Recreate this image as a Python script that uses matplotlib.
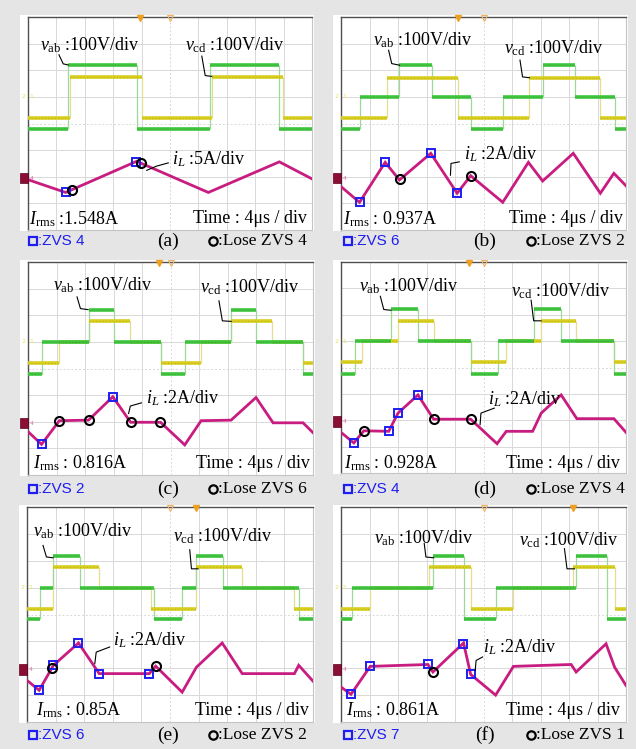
import numpy as np
import matplotlib
matplotlib.use('Agg')
import matplotlib.pyplot as plt
from matplotlib.patches import Rectangle

plt.rcParams['mathtext.fontset'] = 'custom'
plt.rcParams['mathtext.rm'] = 'Liberation Serif'
plt.rcParams['mathtext.it'] = 'Liberation Serif:italic'
plt.rcParams['mathtext.bf'] = 'Liberation Serif:bold'

# ---------------- scope settings ----------------
TIME_PER_DIV = 4.0      # us / div
V_PER_DIV = 100.0       # V / div
V_OFFSET_DIV = 5.0      # ch1/ch2 ground level (div)
I_OFFSET_DIV = 1.95     # ch4 ground level (div)

panel_names = ['(a)', '(b)', '(c)', '(d)', '(e)', '(f)']
i_per_div = [5, 2, 2, 2, 2, 2]                     # A / div
irms_text = ['1.548A', '0.937A', '0.816A', '0.928A', '0.85A', '0.861A']
zvs_count = [4, 6, 2, 4, 6, 7]
lose_count = [4, 2, 6, 4, 2, 1]
trigger_t = [15.8, 16.4, 18.4, 18.0, 23.7, 32.5]  # us

# ---------------- (a) ----------------
a_vab_t = [0, 5.6, 15.4, 25.6, 35.4, 40]
a_vab_v = [-122, 121, -122, 121, -122]
a_vcd_t = [0, 5.9, 16.0, 25.9, 35.9, 40]
a_vcd_v = [-78, 76, -78, 76, -78]
a_il_t = [0, 5.3, 15.3, 25.4, 35.4, 40]
a_il_a = [-0.3, -2.7, 3.15, -2.7, 3.05, -0.15]
a_zvs_t = [5.3, 15.2]
a_lose_t = [6.2, 15.9]

# ---------------- (b) ----------------
b_vab_t = [0, 2.7, 8.2, 12.8, 18.2, 22.7, 28.3, 32.8, 38.4, 40]
b_vab_v = [-121, 0, 119, 0, -121, 0, 119, 0, -121]
b_vcd_t = [0, 6.4, 16.4, 26.4, 36.4, 40]
b_vcd_v = [-81, 71, -81, 71, -81]
b_il_t = [0, 2.6, 6.2, 8.2, 12.6, 16.3, 18.2, 22.7, 26.3, 28.3, 32.6, 36.4, 38.3, 40]
b_il_a = [-0.64, -1.82, 1.18, -0.14, 1.86, -1.14, 0.18, -1.82, 1.18, -0.22, 1.86, -1.14, 0.36, -0.58]
b_zvs_t = [2.6, 6.2, 12.6, 16.3]
b_lose_t = [8.3, 18.2]

# ---------------- (c) ----------------
c_vab_t = [0, 2.0, 8.5, 12.1, 18.6, 22.0, 28.5, 32.0, 38.6, 40]
c_vab_v = [-121, 0, 119, 0, -121, 0, 119, 0, -121]
c_vcd_t = [0, 4.4, 8.5, 14.3, 18.6, 24.3, 28.5, 34.3, 38.6, 40]
c_vcd_v = [-79, 0, 77, 0, -79, 0, 77, 0, -79]
c_il_t = [0, 1.9, 4.4, 8.5, 11.9, 14.4, 18.6, 22.0, 24.3, 28.5, 32.0, 34.4, 38.6, 40]
c_il_a = [-0.64, -1.6, 0.18, 0.22, 1.98, 0.06, 0.06, -1.64, 0.18, 0.22, 1.92, 0.02, 0.02, -0.72]
c_zvs_t = [1.9, 11.9]
c_lose_t = [4.4, 8.5, 14.5, 18.5]

# ---------------- (d) ----------------
d_vab_t = [0, 1.9, 7.0, 10.8, 18.2, 22.0, 27.1, 30.9, 38.3, 40]
d_vab_v = [-124, 0, 120, 0, -124, 0, 120, 0, -124]
d_vcd_t = [0, 3.0, 8.0, 13.0, 18.2, 23.2, 28.1, 33.0, 38.3, 40]
d_vcd_v = [-80, 0, 77, 0, -80, 0, 77, 0, -80]
d_il_t = [0, 1.8, 3.2, 6.7, 8.0, 10.8, 13.0, 18.2, 21.9, 23.2, 26.9, 28.1, 30.9, 33.1, 38.3, 40]
d_il_a = [-0.82, -1.62, -0.7, -0.74, 0.64, 2.02, 0.18, 0.18, -1.68, -0.74, -0.74, 0.64, 2.02, 0.22, 0.22, -0.82]
d_zvs_t = [1.8, 6.7, 8.0, 10.8]
d_lose_t = [3.2, 13.0, 18.2]

# ---------------- (e) ----------------
e_vab_t = [0, 1.8, 3.6, 7.4, 17.7, 21.7, 23.6, 27.4, 38.0, 40]
e_vab_v = [-118, 0, 117, 0, -118, 0, 117, 0, -118]
e_vcd_t = [0, 3.6, 10.1, 17.4, 23.7, 30.1, 37.4, 40]
e_vcd_v = [-78, 75, 0, -78, 75, 0, -78]
e_il_t = [0, 1.7, 3.7, 7.2, 10.1, 17.1, 18.0, 21.7, 23.7, 27.3, 30.1, 37.4, 38.0, 40]
e_il_a = [-0.8, -1.54, 0.32, 1.98, -0.3, -0.3, 0.26, -1.68, 0.18, 1.98, -0.3, -0.3, 0.32, -0.86]
e_zvs_t = [1.7, 3.7, 7.2, 10.1, 17.0]
e_lose_t = [3.5, 18.0]

# ---------------- (f) ----------------
f_vab_t = [0, 1.6, 12.9, 17.3, 21.7, 33.0, 37.4, 40]
f_vab_v = [-118, 0, 117, -118, 0, 117, -118]
f_vcd_t = [0, 4.1, 12.4, 18.3, 24.2, 32.5, 38.4, 40]
f_vcd_v = [-78, 0, 75, -78, 0, 75, -78]
f_il_t = [0, 1.4, 4.1, 12.2, 12.9, 17.2, 18.2, 21.7, 24.2, 32.3, 33.0, 37.2, 38.4, 40]
f_il_a = [-1.3, -1.84, 0.24, 0.38, -0.18, 1.98, -0.36, -1.9, 0.24, 0.38, -0.18, 1.92, 0.18, -1.18]
f_zvs_t = [1.4, 4.1, 12.2, 17.1, 18.2]
f_lose_t = [12.9]

data = [
    (a_vab_t, a_vab_v, a_vcd_t, a_vcd_v, a_il_t, a_il_a, a_zvs_t, a_lose_t),
    (b_vab_t, b_vab_v, b_vcd_t, b_vcd_v, b_il_t, b_il_a, b_zvs_t, b_lose_t),
    (c_vab_t, c_vab_v, c_vcd_t, c_vcd_v, c_il_t, c_il_a, c_zvs_t, c_lose_t),
    (d_vab_t, d_vab_v, d_vcd_t, d_vcd_v, d_il_t, d_il_a, d_zvs_t, d_lose_t),
    (e_vab_t, e_vab_v, e_vcd_t, e_vcd_v, e_il_t, e_il_a, e_zvs_t, e_lose_t),
    (f_vab_t, f_vab_v, f_vcd_t, f_vcd_v, f_il_t, f_il_a, f_zvs_t, f_lose_t),
]

# ---------------- layout (pixels / div positions) ----------------
rects = [(28, 17, 312, 230), (341, 17, 626, 230),
         (28, 262, 313, 475), (341, 262, 626, 473),
         (27, 507, 313, 722), (341, 507, 626, 722)]
row_y = [241, 241, 489, 489, 735, 735]
layout = [
    dict(vab=(0.41, 6.76), vabl=[(1.09, 6.58), (1.24, 6.24), (1.41, 6.2)],
         vcd=(5.53, 6.76), vcdl=[(6.12, 6.53), (6.24, 5.8), (6.47, 5.77)],
         il=(5.06, 2.47), ill=[(4.94, 2.52), (4.53, 2.4), (4.18, 2.24)],
         irms=(0.05, 0.2), time=(9.82, 0.26)),
    dict(vab=(1.11, 6.95), vabl=[(1.67, 6.75), (1.78, 6.25), (2.05, 6.19)],
         vcd=(5.73, 6.64), vcdl=[(6.28, 6.38), (6.37, 5.75), (6.61, 5.72)],
         il=(4.33, 2.64), ill=[(4.15, 2.56), (3.86, 2.5), (3.84, 2.06)],
         irms=(0.06, 0.2), time=(9.88, 0.26)),
    dict(vab=(0.88, 6.95), vabl=[(1.72, 6.69), (1.84, 6.25), (2.11, 6.21)],
         vcd=(6.02, 6.88), vcdl=[(6.7, 6.54), (6.82, 5.79), (7.13, 5.77)],
         il=(4.15, 2.7), ill=[(3.98, 2.71), (3.59, 2.59), (3.53, 2.31)],
         irms=(0.18, 0.24), time=(9.88, 0.26)),
    dict(vab=(0.64, 6.88), vabl=[(1.38, 6.7), (1.5, 6.2), (1.75, 6.17)],
         vcd=(5.96, 6.69), vcdl=[(6.67, 6.55), (6.76, 5.77), (7.02, 5.77)],
         il=(5.15, 2.6), ill=[(5.38, 2.46), (4.91, 2.27), (4.88, 1.83)],
         irms=(0.12, 0.18), time=(9.77, 0.2)),
    dict(vab=(0.21, 6.92), vabl=[(0.56, 6.57), (0.68, 6.14), (0.91, 6.11)],
         vcd=(5.1, 6.71), vcdl=[(5.69, 6.41), (5.75, 5.7), (5.98, 5.7)],
         il=(3.01, 2.86), ill=[(2.89, 2.79), (2.42, 2.6), (2.37, 2.17)],
         irms=(0.33, 0.25), time=(9.86, 0.25)),
    dict(vab=(1.17, 6.64), vabl=[(2.92, 6.64), (2.98, 6.14), (3.25, 6.11)],
         vcd=(6.26, 6.58), vcdl=[(7.84, 6.45), (7.93, 5.7), (8.19, 5.7)],
         il=(4.97, 2.61), ill=[(4.97, 2.42), (4.74, 2.29), (4.71, 1.92)],
         irms=(0.18, 0.25), time=(9.77, 0.25)),
]

GREEN = '#3cc43c'
GREEN_EDGE = '#9ad99a'
YELLOW = '#d8ce1e'
YELLOW_EDGE = '#e4df90'
MAGENTA = '#c81c80'
BLUE = '#1e1ef0'
SERIF = 'Liberation Serif'
SANS = 'Liberation Sans'
FS = 13

W, H = 636, 749
fig = plt.figure(figsize=(W / 100, H / 100), dpi=100, facecolor='#e5e5e5')


def draw_steps(ax, t, v, color, edge_color):
    t = np.asarray(t, float) / TIME_PER_DIV
    y = V_OFFSET_DIV + np.asarray(v, float) / V_PER_DIV
    ax.vlines(t[1:-1], np.minimum(y[:-1], y[1:]), np.maximum(y[:-1], y[1:]),
              color=edge_color, lw=0.9, zorder=3)
    ax.hlines(y, t[:-1], t[1:], color=color, lw=2.6, zorder=4)
    ax.hlines(y, t[:-1], t[1:], color='#606020', lw=0.6, alpha=0.35,
              linestyles=(0, (1, 3)), zorder=5)


for k in range(6):
    vab_t, vab_v, vcd_t, vcd_v, il_t, il_a, zvs_t, lose_t = data[k]
    L = layout[k]
    l, t, r, b = rects[k]
    fig.add_artist(Rectangle(((l - 8) / W, 1 - (b + 1) / H), (r - l + 10) / W, (b - t + 3) / H,
                             transform=fig.transFigure, facecolor='white',
                             edgecolor='none', zorder=0))
    ax = fig.add_axes([l / W, 1 - b / H, (r - l) / W, (b - t) / H], zorder=1)
    ax.set_xlim(0, 10)
    ax.set_ylim(0, 8)
    ax.set_xticks([])
    ax.set_yticks([])
    ax.set_facecolor('white')
    for side in ['top', 'left']:
        ax.spines[side].set_color('#505050')
        ax.spines[side].set_linewidth(1.0)
    for side in ['right', 'bottom']:
        ax.spines[side].set_color('#c4c4c4')
        ax.spines[side].set_linewidth(0.8)
    for gx in range(1, 10):
        ax.axvline(gx, color='#d8d8d8', lw=0.7, zorder=1,
                   ls=(0, (2, 2)) if gx == 5 else '-')
    for gy in range(1, 8):
        ax.axhline(gy, color='#d8d8d8', lw=0.7, zorder=1,
                   ls=(0, (2, 2)) if gy == 4 else '-')

    # voltage traces
    draw_steps(ax, vcd_t, vcd_v, YELLOW, YELLOW_EDGE)
    draw_steps(ax, vab_t, vab_v, GREEN, GREEN_EDGE)

    # current trace
    ti = np.asarray(il_t, float) / TIME_PER_DIV
    yi = I_OFFSET_DIV + np.asarray(il_a, float) / i_per_div[k]
    ax.plot(ti, yi, color=MAGENTA, lw=2.0, zorder=6, solid_joinstyle='miter')
    zx = np.asarray(zvs_t, float) / TIME_PER_DIV
    ax.plot(zx, np.interp(zx, ti, yi), 's', ms=5.5, mfc='none', mec=BLUE, mew=1.4, zorder=8)
    lx = np.asarray(lose_t, float) / TIME_PER_DIV
    ax.plot(lx, np.interp(lx, ti, yi), 'o', ms=6.5, mfc='none', mec='k', mew=1.5, zorder=8)

    # channel markers
    ax.add_patch(Rectangle((-0.28, I_OFFSET_DIV - 0.2), 0.28, 0.4, facecolor='#8a0f33',
                           edgecolor='#5a0020', lw=0.5, clip_on=False, zorder=9))
    ax.text(0.06, I_OFFSET_DIV, '4', fontsize=4.5, color='#e070b0', va='center', zorder=9)
    ax.text(-0.22, V_OFFSET_DIV, '2', fontsize=4.5, color='#e8e060', va='center',
            clip_on=False, zorder=9)
    ax.text(0.05, V_OFFSET_DIV, '1', fontsize=4.5, color='#e8e060', va='center', zorder=9)
    # trigger markers
    ax.plot([trigger_t[k] / TIME_PER_DIV], [7.97], 'v', ms=4, color='#f0a020',
            clip_on=False, zorder=9)
    ax.plot([5.0], [7.97], 'v', ms=4, mfc='none', mec='#f0b060', mew=0.8,
            clip_on=False, zorder=9)

    # annotations
    ax.text(*L['vab'], r'$v_{\mathrm{ab}}$ :100V/div', fontsize=FS, family=SERIF,
            va='baseline', zorder=10)
    ax.text(*L['vcd'], r'$v_{\mathrm{cd}}$ :100V/div', fontsize=FS, family=SERIF,
            va='baseline', zorder=10)
    ax.text(*L['il'], r'$i_L$ :%dA/div' % i_per_div[k], fontsize=FS, family=SERIF,
            va='baseline', zorder=10)
    ax.text(*L['irms'], r'$I_{\mathrm{rms}}$ :' + ('' if k == 0 else ' ') + irms_text[k],
            fontsize=FS, family=SERIF, va='baseline', zorder=10)
    ax.text(*L['time'], 'Time : 4μs / div', fontsize=FS, family=SERIF,
            va='baseline', ha='right', zorder=10)
    for key in ['vabl', 'vcdl', 'ill']:
        xs, ys = zip(*L[key])
        ax.plot(xs, ys, color='k', lw=0.8, zorder=10)

    # bottom legend row
    x0 = 33 if k % 2 == 0 else 348
    yy = 1 - row_y[k] / H
    fig.lines.append(plt.Line2D([x0 / W], [yy], marker='s', ms=6, mfc='none', mec=BLUE,
                                mew=1.6, transform=fig.transFigure))
    fig.text((x0 + 5) / W, yy, ':ZVS %d' % zvs_count[k], color=BLUE, fontsize=11,
             family=SANS, va='center')
    xm = 168 if k % 2 == 0 else 485
    fig.text(xm / W, yy, panel_names[k], fontsize=14, family=SERIF, va='center', ha='center')
    xc = 213 if k % 2 == 0 else 531
    fig.lines.append(plt.Line2D([xc / W], [yy], marker='o', ms=6, mfc='none', mec='k',
                                mew=1.6, transform=fig.transFigure))
    fig.text((xc + 5) / W, yy, ':Lose ZVS %d' % lose_count[k], fontsize=12.5,
             family=SERIF, va='center')

fig.savefig('out.png', dpi=100, facecolor=fig.get_facecolor())
